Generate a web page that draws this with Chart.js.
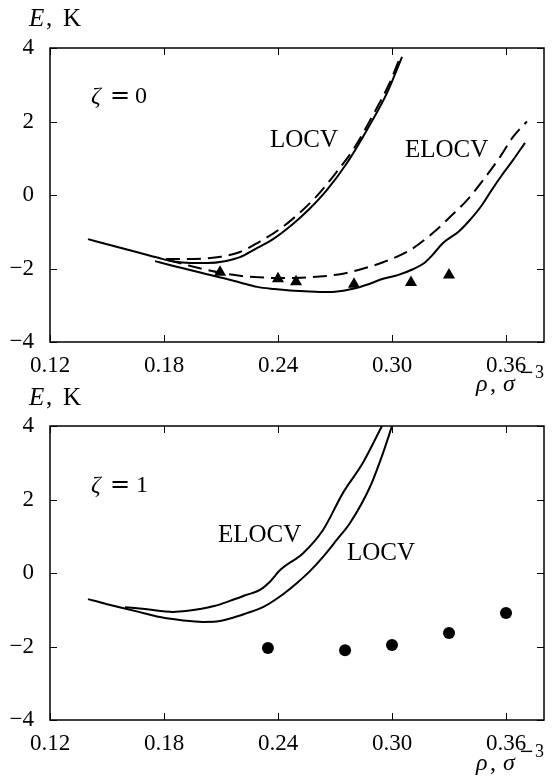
<!DOCTYPE html>
<html>
<head>
<meta charset="utf-8">
<script src="https://cdn.jsdelivr.net/npm/chart.js@4.4.1/dist/chart.umd.min.js"></script>
<style>
  body { margin: 0; background: #fff; }
  #wrap { position: relative; width: 553px; height: 776px; }
  canvas { position: absolute; left: 0; }
</style>
</head>
<body>
<div id="wrap">
  <canvas id="top" width="553" height="400" style="top:0"></canvas>
  <canvas id="bottom" width="553" height="396" style="top:380px"></canvas>
</div>
<script>
// axes
const xTicks = [0.12, 0.18, 0.24, 0.30, 0.36];
const yTicks = [-4, -2, 0, 2, 4];

// zeta = 0 panel
const locv0X = [0.14, 0.155, 0.167, 0.177, 0.185, 0.194, 0.203, 0.212, 0.22, 0.228, 0.2374, 0.248, 0.2565, 0.2658, 0.2763, 0.2868, 0.2974, 0.3053];
const locv0Y = [-1.2, -1.41, -1.57, -1.71, -1.81, -1.85, -1.85, -1.8, -1.69, -1.47, -1.2, -0.78, -0.38, 0.14, 0.87, 1.77, 2.78, 3.76];
const locv0DashX = [0.181, 0.19, 0.2, 0.21, 0.22, 0.23, 0.24, 0.25, 0.26, 0.27, 0.28, 0.29, 0.2985, 0.3045];
const locv0DashY = [-1.74, -1.74, -1.73, -1.68, -1.55, -1.28, -0.96, -0.55, -0.05, 0.57, 1.27, 2.18, 3.02, 3.78];
const elocv0X = [0.1753, 0.185, 0.1937, 0.202, 0.211, 0.22, 0.229, 0.238, 0.2463, 0.254, 0.262, 0.27, 0.2795, 0.288, 0.2953, 0.303, 0.311, 0.317, 0.321, 0.327, 0.335, 0.341, 0.347, 0.352, 0.358, 0.363, 0.37];
const elocv0Y = [-1.8, -1.93, -2.04, -2.15, -2.26, -2.38, -2.5, -2.56, -2.6, -2.62, -2.64, -2.63, -2.55, -2.42, -2.28, -2.18, -2.02, -1.85, -1.65, -1.3, -1.0, -0.68, -0.3, 0.1, 0.55, 0.9, 1.42];
const elocv0DashX = [0.182, 0.193, 0.2026, 0.211, 0.22, 0.23, 0.241, 0.252, 0.262, 0.2742, 0.285, 0.2953, 0.3095, 0.3216, 0.3305, 0.3395, 0.348, 0.3568, 0.3637, 0.371];
const elocv0DashY = [-1.77, -1.92, -2.04, -2.13, -2.2, -2.24, -2.26, -2.25, -2.22, -2.14, -2.0, -1.83, -1.5, -1.03, -0.6, -0.14, 0.41, 1.03, 1.58, 2.0];
const tri0X = [0.2095, 0.24, 0.2495, 0.28, 0.31, 0.33];
const tri0Y = [-2.1, -2.28, -2.36, -2.43, -2.38, -2.18];

// zeta = 1 panel
const locv1X = [0.14, 0.15, 0.1605, 0.17, 0.1779, 0.19, 0.2005, 0.2075, 0.2147, 0.2232, 0.2321, 0.241, 0.25, 0.2568, 0.2637, 0.2709, 0.2779, 0.2884, 0.2953, 0.3];
const locv1Y = [-0.71, -0.85, -0.98, -1.1, -1.2, -1.29, -1.33, -1.32, -1.24, -1.1, -0.93, -0.64, -0.27, 0.05, 0.44, 0.9, 1.36, 2.34, 3.27, 4.0];
const elocv1X = [0.1595, 0.17, 0.1847, 0.1925, 0.1989, 0.2065, 0.2147, 0.2232, 0.2305, 0.2355, 0.2411, 0.2532, 0.2637, 0.2742, 0.2847, 0.2947];
const elocv1Y = [-0.93, -0.98, -1.06, -1.03, -0.98, -0.9, -0.76, -0.6, -0.46, -0.25, 0.08, 0.54, 1.17, 2.18, 3.0, 4.0];
const dots1X = [0.2347, 0.2753, 0.30, 0.33, 0.36];
const dots1Y = [-2.04, -2.1, -1.96, -1.63, -1.09];

const SERIF = "'Liberation Serif', 'DejaVu Serif', serif";
Chart.defaults.font.family = SERIF;
Chart.defaults.color = '#000';

const pts = (xs, ys) => xs.map((x, i) => ({ x: x, y: ys[i] }));

function curve(xs, ys, dashed) {
    return {
        data: pts(xs, ys),
        showLine: true,
        borderColor: '#000',
        borderWidth: 2,
        borderDash: dashed ? [14, 7] : [],
        pointRadius: 0,
        cubicInterpolationMode: 'monotone'
    };
}

function marks(xs, ys, style, r) {
    return {
        data: pts(xs, ys),
        showLine: false,
        pointStyle: style,
        pointRadius: r,
        backgroundColor: '#000',
        borderColor: '#000',
        borderWidth: 0
    };
}

// frame, inward ticks and the text on the figure
const decorPlugin = {
    id: 'decor',
    afterDraw(chart, args, opts) {
        const ctx = chart.ctx;
        const a = chart.chartArea;
        const sx = chart.scales.x, sy = chart.scales.y;
        ctx.save();
        ctx.strokeStyle = '#000';
        ctx.lineWidth = 1.5;
        ctx.strokeRect(a.left, a.top, a.right - a.left, a.bottom - a.top);
        ctx.lineWidth = 1;
        ctx.beginPath();
        xTicks.forEach(v => {
            const px = Math.round(sx.getPixelForValue(v)) + 0.5;
            ctx.moveTo(px, a.bottom); ctx.lineTo(px, a.bottom - 7);
            ctx.moveTo(px, a.top); ctx.lineTo(px, a.top + 7);
        });
        yTicks.forEach(v => {
            const py = Math.round(sy.getPixelForValue(v)) + 0.5;
            ctx.moveTo(a.left, py); ctx.lineTo(a.left + 7, py);
            ctx.moveTo(a.right, py); ctx.lineTo(a.right - 7, py);
        });
        ctx.stroke();
        ctx.fillStyle = '#000';
        ctx.textBaseline = 'alphabetic';
        ctx.textAlign = 'left';
        (opts.texts || []).forEach(t => {
            ctx.font = (t.italic ? 'italic ' : '') + t.size + 'px ' + (t.family || SERIF);
            ctx.fillText(t.t, t.x, t.y);
        });
        ctx.restore();
    }
};

function makeChart(id, datasets, padTop, xHeight, texts) {
    return new Chart(document.getElementById(id), {
        type: 'scatter',
        data: { datasets: datasets },
        options: {
            responsive: false,
            animation: false,
            devicePixelRatio: 1,
            layout: { padding: { top: padTop, right: 9, left: 0, bottom: 0 } },
            plugins: {
                legend: { display: false },
                tooltip: { enabled: false },
                decor: { texts: texts }
            },
            scales: {
                x: {
                    type: 'linear', min: 0.12, max: 0.38,
                    grid: { display: false }, border: { display: false },
                    afterBuildTicks: s => { s.ticks = xTicks.map(v => ({ value: v })); },
                    afterFit: s => { s.height = xHeight; },
                    ticks: { padding: 2, maxRotation: 0, autoSkip: false, font: { size: 23 },
                             callback: v => v.toFixed(2) }
                },
                y: {
                    type: 'linear', min: -4, max: 4,
                    grid: { display: false }, border: { display: false },
                    afterBuildTicks: s => { s.ticks = yTicks.map(v => ({ value: v })); },
                    afterFit: s => { s.width = 50; },
                    ticks: { padding: 8, font: { size: 23 },
                             callback: v => v < 0 ? '\u2212' + Math.abs(v) : String(v) }
                }
            }
        },
        plugins: [decorPlugin]
    });
}

function axisTexts(eBase, rhoBase) {
    return [
        { t: 'E', x: 29, y: eBase, size: 25, italic: true },
        { t: ',', x: 46, y: eBase, size: 25 },
        { t: 'K', x: 63, y: eBase, size: 25 },
        { t: '\u03C1', x: 476, y: rhoBase, size: 24, italic: true },
        { t: ',', x: 490, y: rhoBase, size: 24 },
        { t: '\u03C3', x: 503, y: rhoBase, size: 24, italic: true },
        { t: '\u2212', x: 519, y: rhoBase - 13, size: 18, family: "'DejaVu Serif', serif" },
        { t: '3', x: 535, y: rhoBase - 13, size: 18 }
    ];
}

makeChart('top', [
    curve(locv0X, locv0Y, false),
    curve(locv0DashX, locv0DashY, true),
    curve(elocv0X, elocv0Y, false),
    curve(elocv0DashX, elocv0DashY, true),
    marks(tri0X, tri0Y, 'triangle', 7)
], 48, 58, axisTexts(26, 391).concat([
    { t: '\u03B6', x: 91, y: 103, size: 24, italic: true },
    { t: '=', x: 110, y: 103, size: 24, family: "'DejaVu Serif', serif" },
    { t: '0', x: 135, y: 103, size: 24 },
    { t: 'LOCV', x: 270, y: 147, size: 25 },
    { t: 'ELOCV', x: 405, y: 157, size: 25 }
]));

makeChart('bottom', [
    curve(locv1X, locv1Y, false),
    curve(elocv1X, elocv1Y, false),
    marks(dots1X, dots1Y, 'circle', 6)
], 46, 56, axisTexts(25, 390).concat([
    { t: '\u03B6', x: 91, y: 112, size: 24, italic: true },
    { t: '=', x: 110, y: 112, size: 24, family: "'DejaVu Serif', serif" },
    { t: '1', x: 136, y: 112, size: 24 },
    { t: 'ELOCV', x: 218, y: 542 - 380, size: 25 },
    { t: 'LOCV', x: 347, y: 560 - 380, size: 25 }
]));
</script>
</body>
</html>
